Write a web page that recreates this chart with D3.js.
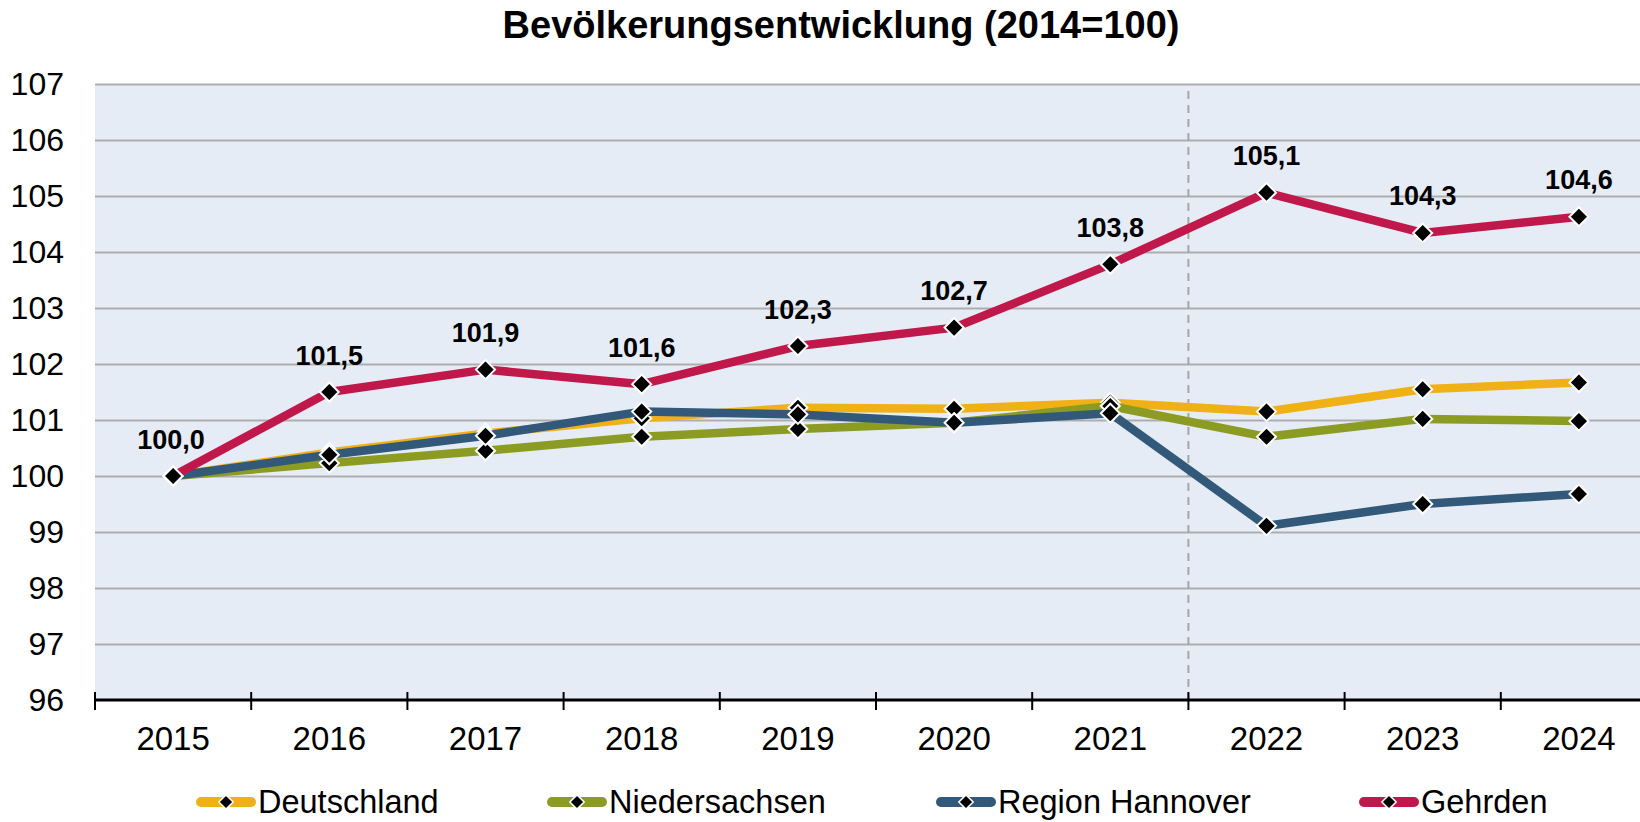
<!DOCTYPE html>
<html><head><meta charset="utf-8">
<script src="https://cdn.jsdelivr.net/npm/d3@7"></script>
<style>
html,body{margin:0;padding:0;background:#fff;}
svg{display:block;font-family:"Liberation Sans",Arial,sans-serif;}
</style></head>
<body><svg id="c" width="1640" height="822"></svg>
<script>
const title = "Bevölkerungsentwicklung (2014=100)";
const years = ["2015","2016","2017","2018","2019","2020","2021","2022","2023","2024"];
const yTicks = [96,97,98,99,100,101,102,103,104,105,106,107];
const seriesNames = ["Deutschland","Niedersachsen","Region Hannover","Gehrden"];
const deutschland   = [100.0,100.42,100.76,101.03,101.22,101.20,101.31,101.15,101.55,101.67];
const niedersachsen = [100.0,100.23,100.45,100.70,100.84,100.95,101.25,100.70,101.02,100.98];
const regionHannover= [100.0,100.38,100.72,101.15,101.10,100.95,101.12,99.11,99.50,99.68];
const gehrden       = [100.0,101.50,101.90,101.64,102.32,102.65,103.78,105.06,104.34,104.63];
const colors = ["#F0B117","#8C9C22","#33597A","#C0184B"];
const dividerAfter = "2021";

const svg = d3.select("#c");
const L = 95, T = 84, B = 700, bandW = 156.2;
const x = d3.scaleBand().domain(years).range([L, L + bandW*years.length]).padding(0);
const y = d3.scaleLinear().domain([96,107]).range([B, T]);
const cx = d => x(d) + x.bandwidth()/2;

// plot background
svg.append("rect").attr("x", L).attr("y", T).attr("width", 1640 - L).attr("height", B - T).attr("fill", "#E6ECF6");

// gridlines
svg.append("g").attr("transform", `translate(${L},0)`)
  .call(d3.axisRight(y).tickValues(yTicks.filter(v => v > 96)).tickSize(1640 - L).tickFormat(""))
  .call(g => g.select(".domain").remove())
  .selectAll("line").attr("stroke", "#ADADAD").attr("stroke-width", 2);

// y labels
svg.append("g").attr("transform", `translate(${L},0)`)
  .call(d3.axisLeft(y).tickValues(yTicks).tickSize(0).tickPadding(31).tickFormat(d3.format("d")))
  .call(g => g.select(".domain").remove())
  .selectAll("text").attr("font-size", 32).attr("fill", "#000").attr("font-family", "Liberation Sans, Arial, sans-serif");

// dashed divider
const divX = x(dividerAfter) + x.bandwidth();
svg.append("line").attr("x1", divX).attr("x2", divX).attr("y1", 91).attr("y2", B)
  .attr("stroke", "#A6A6A6").attr("stroke-width", 2).attr("stroke-dasharray", "8,6");

// series
const data = [deutschland, niedersachsen, regionHannover, gehrden];
const line = d3.line().x((d,i) => cx(years[i])).y(d => y(d));
data.forEach((vals, si) => {
  const g = svg.append("g");
  g.append("path").datum(vals).attr("d", line).attr("fill", "none")
    .attr("stroke", colors[si]).attr("stroke-width", 8.5).attr("stroke-linejoin", "round");
  g.selectAll("path.m").data(vals).join("path").attr("class", "m")
    .attr("d", d3.symbol().type(d3.symbolDiamond2).size(230))
    .attr("transform", (d,i) => `translate(${cx(years[i])},${y(d)})`)
    .attr("fill", "#000").attr("stroke", "#fff").attr("stroke-width", 2);
});

// data labels for Gehrden
const fmt = v => d3.format(".1f")(v).replace(".", ",");
svg.append("g").selectAll("text").data(gehrden).join("text")
  .attr("x", (d,i) => cx(years[i]) - (i === 0 ? 2 : 0))
  .attr("y", d => y(d) - 27.5)
  .attr("text-anchor", "middle").attr("font-size", 27).attr("font-weight", "bold")
  .text(fmt);

// x axis
svg.append("line").attr("x1", L).attr("x2", 1640).attr("y1", B).attr("y2", B)
  .attr("stroke", "#000").attr("stroke-width", 3);
const bounds = d3.range(years.length + 1).map(i => L + i * x.bandwidth());
svg.append("g").selectAll("line").data(bounds).join("line")
  .attr("x1", d => d).attr("x2", d => d).attr("y1", B - 8).attr("y2", B + 10)
  .attr("stroke", "#000").attr("stroke-width", 2);
svg.append("g").selectAll("text").data(years).join("text")
  .attr("x", d => cx(d)).attr("y", 750).attr("text-anchor", "middle")
  .attr("font-size", 33).text(d => d);

// title
svg.append("text").attr("x", 841).attr("y", 38).attr("text-anchor", "middle")
  .attr("font-size", 38).attr("font-weight", "bold").text(title);

// legend
const legX = [196, 547, 936, 1359];
seriesNames.forEach((n, i) => {
  const g = svg.append("g").attr("transform", `translate(${legX[i]},802)`);
  g.append("line").attr("x1", 5).attr("x2", 55).attr("y1", 0).attr("y2", 0)
    .attr("stroke", colors[i]).attr("stroke-width", 10).attr("stroke-linecap", "round");
  g.append("path").attr("d", d3.symbol().type(d3.symbolDiamond2).size(130))
    .attr("transform", "translate(30,0)").attr("fill", "#000").attr("stroke", "#fff").attr("stroke-width", 1.5);
  g.append("text").attr("x", 62).attr("y", 11).attr("font-size", 32.5).text(n);
});
</script></body></html>
